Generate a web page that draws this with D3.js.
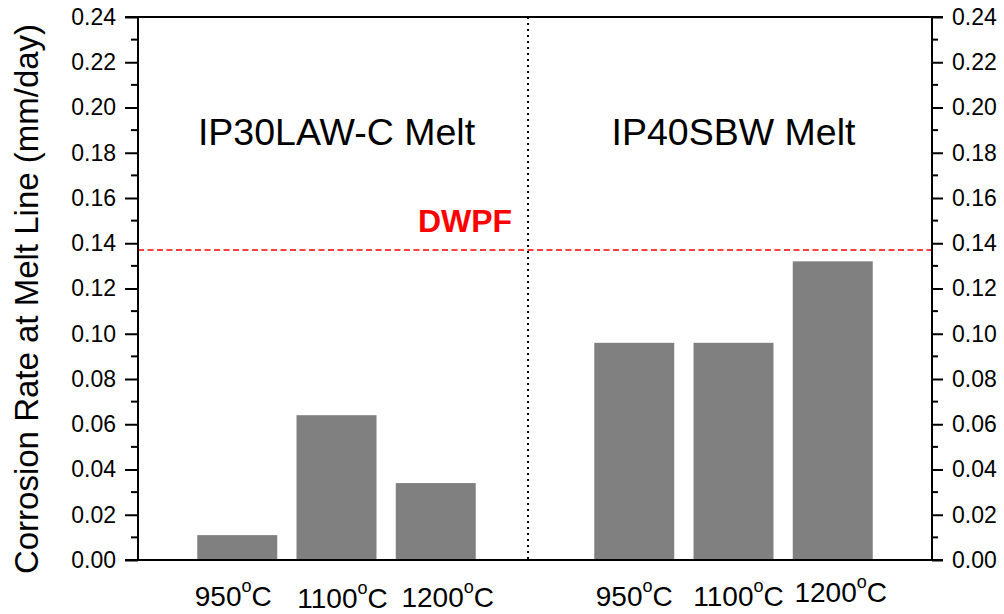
<!DOCTYPE html>
<html><head><meta charset="utf-8">
<script src="https://cdn.jsdelivr.net/npm/d3@7"></script>
<style>
html,body{margin:0;padding:0;background:#fff;}
svg{display:block;font-family:"Liberation Sans",Arial,sans-serif;}
</style></head>
<body>
<svg id="chart" width="1004" height="614"></svg>
<script>
const groups = ["IP30LAW-C Melt", "IP40SBW Melt"];
const temperatures = ["950", "1100", "1200"];
const rateIP30LAWC = [0.011, 0.064, 0.034];
const rateIP40SBW = [0.096, 0.096, 0.132];
const dwpfRate = 0.137;
const dwpfLabel = "DWPF";
const yTicks = [0, 0.02, 0.04, 0.06, 0.08, 0.10, 0.12, 0.14, 0.16, 0.18, 0.20, 0.22, 0.24];
const yLabel = "Corrosion Rate at Melt Line (mm/day)";

const seriesByGroup = [rateIP30LAWC, rateIP40SBW];
const data = [];
groups.forEach((g, gi) => temperatures.forEach((t, ti) => {
  data.push({group: g, temp: t, value: seriesByGroup[gi][ti], slot: gi * 4 + ti + 1});
}));

const svg = d3.select("#chart");
const L = 138, R = 932, T = 17, B = 560;
const x = d3.scaleLinear().domain([0, 8]).range([L, R]);
const y = d3.scaleLinear().domain([0, 0.24]).range([B, T]);
const barW = (x(1) - x(0)) * 0.806;

// bars
svg.append("g").selectAll("rect").data(data).join("rect")
  .attr("x", d => x(d.slot) - barW / 2)
  .attr("y", d => y(d.value))
  .attr("width", barW)
  .attr("height", d => y(0) - y(d.value))
  .attr("fill", "#808080");

// divider
svg.append("line")
  .attr("x1", x(3.93)).attr("x2", x(3.93))
  .attr("y1", T).attr("y2", B)
  .attr("stroke", "#000").attr("stroke-width", 2)
  .attr("stroke-dasharray", "2,4");

// DWPF line
svg.append("line")
  .attr("x1", L).attr("x2", R)
  .attr("y1", y(dwpfRate)).attr("y2", y(dwpfRate))
  .attr("stroke", "#ff0000").attr("stroke-width", 1.5)
  .attr("stroke-dasharray", "6,3.5");

svg.append("text")
  .attr("x", 465).attr("y", y(dwpfRate) - 18)
  .attr("text-anchor", "middle")
  .attr("font-size", 32).attr("font-weight", "bold")
  .attr("fill", "#ff0000").text(dwpfLabel);

// group titles
groups.forEach((g, gi) => {
  svg.append("text")
    .attr("x", x(gi * 4 + 2))
    .attr("y", 145)
    .attr("text-anchor", "middle")
    .attr("font-size", 37.5)
    .attr("fill", "#000")
    .text(g);
});

// axes
const minorTicks = d3.range(0.01, 0.24, 0.02);
const leftAxis = d3.axisLeft(y).tickValues(yTicks).tickFormat(d3.format(".2f")).tickSize(13).tickPadding(9);
const rightAxis = d3.axisRight(y).tickValues(yTicks).tickFormat(d3.format(".2f")).tickSize(11).tickPadding(9);

function styleAxis(g) {
  g.select(".domain").attr("stroke-width", 2);
  g.selectAll(".tick line").attr("stroke-width", 2);
  g.selectAll(".tick text").attr("font-size", 23).attr("font-family", "Liberation Sans, Arial, sans-serif").attr("fill", "#000");
}
const gl = svg.append("g").attr("transform", `translate(${L},0)`).call(leftAxis).call(styleAxis);
gl.select(".domain").attr("d", `M0,${B}V${T}`);
gl.selectAll(".minor").data(minorTicks).join("line").attr("class", "minor")
  .attr("x1", -7).attr("x2", 0).attr("y1", d => y(d)).attr("y2", d => y(d))
  .attr("stroke", "#000").attr("stroke-width", 2);

const gr = svg.append("g").attr("transform", `translate(${R},0)`).call(rightAxis).call(styleAxis);
gr.select(".domain").attr("d", `M0,${B}V${T}`);
gr.selectAll(".minor").data(minorTicks).join("line").attr("class", "minor")
  .attr("x1", 0).attr("x2", 6).attr("y1", d => y(d)).attr("y2", d => y(d))
  .attr("stroke", "#000").attr("stroke-width", 2);

// top and bottom frame
svg.append("line").attr("x1", L - 13).attr("x2", R + 11).attr("y1", T).attr("y2", T)
  .attr("stroke", "#000").attr("stroke-width", 2);
svg.append("line").attr("x1", L - 13).attr("x2", R + 11).attr("y1", B).attr("y2", B)
  .attr("stroke", "#000").attr("stroke-width", 2);

// x labels
const labelDx = [-4, 6, 12, 0, 5, 8];
const labelDy = [-1, 1, 0, -1, -1, -5];
const xl = svg.append("g").selectAll("text").data(data).join("text")
  .attr("x", (d, i) => x(d.slot) + labelDx[i])
  .attr("y", (d, i) => 607 + labelDy[i])
  .attr("text-anchor", "middle")
  .attr("font-size", 28)
  .attr("fill", "#000");
xl.append("tspan").text(d => d.temp);
xl.append("tspan").attr("font-size", 18).attr("dy", -14).text("o");
xl.append("tspan").attr("dy", 14).text("C");

// y title
svg.append("text")
  .attr("transform", `translate(38,${299}) rotate(-90)`)
  .attr("text-anchor", "middle")
  .attr("font-size", 33)
  .attr("fill", "#000")
  .text(yLabel);
</script>
</body></html>
